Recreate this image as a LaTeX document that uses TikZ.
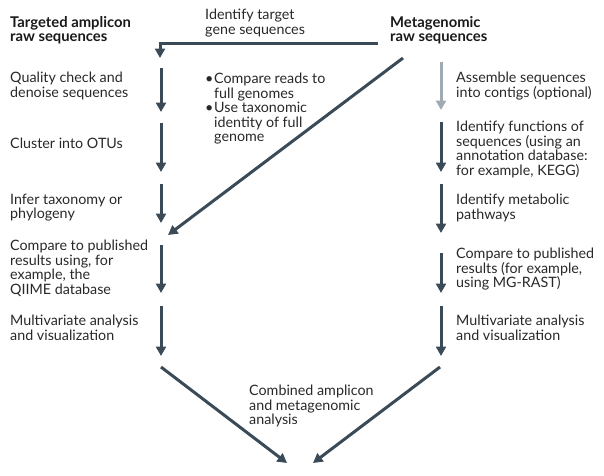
\documentclass[tikz,border=0pt]{standalone}
\usepackage{fontspec}
\setmainfont{Lato}
\usetikzlibrary{arrows.meta}
\definecolor{arr}{RGB}{58,74,86}
\definecolor{arrlight}{RGB}{160,170,178}
\definecolor{txt}{RGB}{40,40,42}
\tikzset{
  lbl/.style={anchor=north west, align=left, inner sep=0pt, text=txt,
    font=\fontsize{14.3}{14.6}\selectfont, yshift=10.22pt,
    execute at begin node=\strut},
  hdr/.style={lbl, font=\fontsize{14.8}{14.2}\selectfont\bfseries, text=black!90, yshift=9.94pt},
  flow/.style={draw=arr, line width=3pt, -{Triangle[length=9.5pt,width=10pt]}},
  flowlight/.style={flow, draw=arrlight, -{Triangle[length=9.5pt,width=10pt]}},
  plain/.style={draw=arr, line width=3pt},
}
\begin{document}
\begin{tikzpicture}[x=1pt,y=-1pt]
\useasboundingbox (0,0) rectangle (604,475);
% headers
\node[hdr] (tgt) at (10,36) {Targeted amplicon\\raw sequences};
\node[hdr] (meta) at (390,36) {Metagenomic\\raw sequences};
\node[lbl] (ident) at (205,19) {Identify target\\gene sequences};
% left column texts
\node[lbl] (l1) at (10,82) {Quality check and\\denoise sequences};
\node[lbl] (l2) at (10,148) {Cluster into OTUs};
\node[lbl] (l3) at (10,204) {Infer taxonomy or\\phylogeny};
\node[lbl] (l4) at (10,250) {Compare to published\\results using, for\\example, the\\QIIME database};
\node[lbl] (l5) at (10,325) {Multivariate analysis\\and visualization};
% middle bullets
\node[lbl] (bul) at (205,83) {\makebox[9pt][l]{•}Compare reads to\\\hspace*{9pt}full genomes\\\makebox[9pt][l]{•}Use taxonomic\\\hspace*{9pt}identity of full\\\hspace*{9pt}genome};
% right column texts
\node[lbl] (r1) at (456,82) {Assemble sequences\\into contigs (optional)};
\node[lbl] (r2) at (456,131) {Identify functions of\\sequences (using an\\annotation database:\\for example, KEGG)};
\node[lbl] (r3) at (456,204) {Identify metabolic\\pathways};
\node[lbl] (r4) at (456,258) {Compare to published\\results (for example,\\using MG-RAST)};
\node[lbl] (r5) at (456,325) {Multivariate analysis\\and visualization};
% bottom
\node[lbl] (comb) at (249,395) {Combined amplicon\\and metagenomic\\analysis};

% coordinates
\coordinate (hA) at (378,43);
\coordinate (hB) at (160,43);
\coordinate (hC) at (160,58);
\foreach \n/\a/\b in {1/68/112, 2/123/172, 3/184/223, 4/245/293, 5/306/356}{
  \coordinate (La\n) at (161,\a);
  \coordinate (Lb\n) at (161,\b);
}
\foreach \n/\a/\b in {1/62/110, 2/122/172, 3/184/233, 4/253/293, 5/306/356}{
  \coordinate (Ra\n) at (441,\a);
  \coordinate (Rb\n) at (441,\b);
}
\coordinate (dA) at (403,58);
\coordinate (dB) at (168,235);
\coordinate (bLa) at (161,367);
\coordinate (bRa) at (440,367);
\coordinate (bLb) at (287,463);
\coordinate (bRb) at (313,463);

% connectors
\draw[flow, line join=miter] (hA) -- (hB) -- (hC);
\foreach \n in {1,...,5}{\draw[flow] (La\n) -- (Lb\n);}
\draw[flowlight] (Ra1) -- (Rb1);
\foreach \n in {2,...,5}{\draw[flow] (Ra\n) -- (Rb\n);}
\draw[flow] (dA) -- (dB);
\draw[flow] (bLa) -- (bLb);
\draw[flow] (bRa) -- (bRb);
\end{tikzpicture}
\end{document}
